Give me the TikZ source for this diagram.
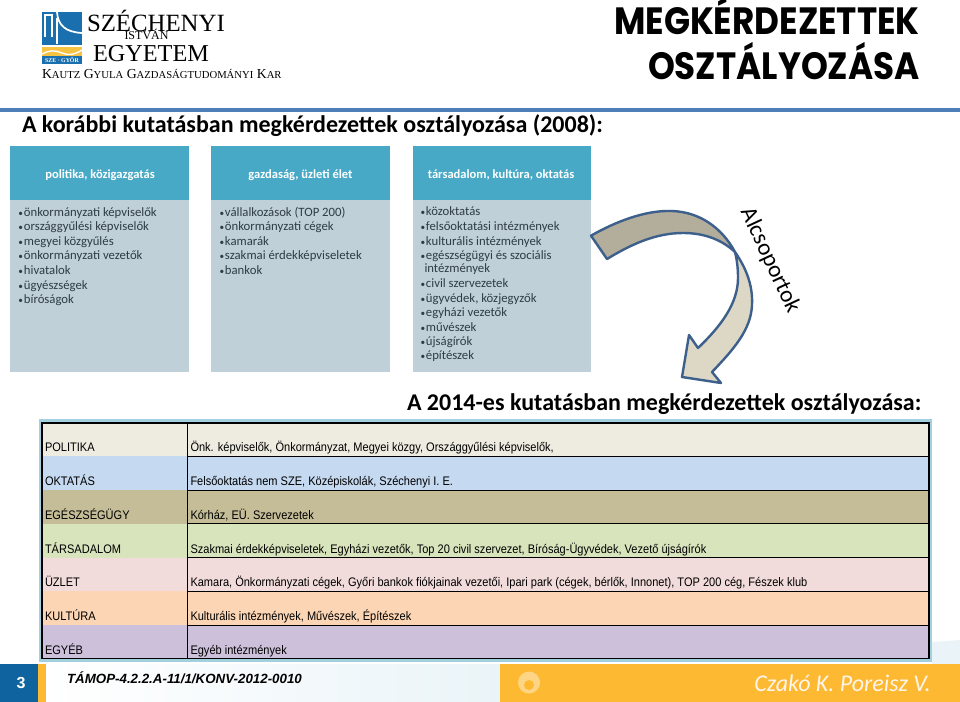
\documentclass[tikz,border=0pt]{standalone}
\usepackage{fontspec}
\setmainfont{Carlito}
\newfontfamily\tablefont[FakeStretch=0.89]{Liberation Sans}
\newfontfamily\seriffont{Liberation Serif}
\newfontfamily\footfont{Liberation Sans}
\newfontfamily\titlefont[FakeStretch=0.9]{Poppins}
\definecolor{headblue}{HTML}{47A9C6}
\definecolor{bodyblue}{HTML}{BFD0D9}
\definecolor{lineblue}{HTML}{4F7FB8}
\definecolor{arrowline}{HTML}{3D5F8C}
\definecolor{arrowdark}{HTML}{B3AD9B}
\definecolor{arrowlight}{HTML}{DDD8C5}
\definecolor{frameblue}{HTML}{A3D0DE}
\definecolor{footorange}{HTML}{FDB932}
\definecolor{footblue}{HTML}{0F649F}
\definecolor{logoblue}{HTML}{1A6FAF}
\definecolor{logoyellow}{HTML}{F5C242}
\definecolor{bullettext}{HTML}{2E3C44}
\definecolor{paletint}{HTML}{EAF4F8}
\definecolor{rowa}{HTML}{EEECE1}
\definecolor{rowb}{HTML}{C5D9F1}
\definecolor{rowc}{HTML}{C4BD97}
\definecolor{rowd}{HTML}{D8E4BC}
\definecolor{rowe}{HTML}{F2DCDB}
\definecolor{rowf}{HTML}{FCD5B4}
\definecolor{rowg}{HTML}{CCC0DA}
\tikzset{
  txt/.style={inner sep=0pt,outer sep=0pt,anchor=base west},
  head/.style={inner sep=0pt,text=white,font=\fontsize{9.4}{12}\selectfont\bfseries},
  bul/.style={txt,text=bullettext,font=\fontsize{9.55}{12}\selectfont},
  tab/.style={txt,text=black,font=\tablefont\fontsize{9.3}{10}\selectfont},
  big/.style={txt,text=black,font=\fontsize{18}{20}\selectfont\bfseries},
}
\newcommand{\bulitem}[1]{{\scriptsize\textbullet}\hspace{0.6pt}#1}
\begin{document}
\begin{tikzpicture}[x=0.75pt,y=-0.75pt]
\useasboundingbox (0,0) rectangle (960,702);
\fill[white] (0,0) rectangle (960,702);
% --- logo
\fill[logoblue] (42,12) rectangle (82,45);
\draw[white,line width=1.1pt] (45,37) -- (45,15) -- (52,15) -- (52,37);
\draw[white,line width=1.3pt] (57,12) .. controls (58,26) and (66,32) .. (82,33);
\draw[white,line width=1.1pt] (57,18) -- (57,44);
\fill[logoyellow] (42,47) rectangle (82,56);
\draw[white,line width=1pt] (42,54) .. controls (50,50) and (54,50) .. (62,53) .. controls (70,56) and (76,54) .. (82,50);
\fill[logoblue] (42,56) rectangle (82,64);
\node[inner sep=0pt,text=white] (logomark) at (62,60) {\seriffont\bfseries\fontsize{4.4}{5}\selectfont SZE · GYŐR};
\node[txt,font=\seriffont\fontsize{18.6}{24}\selectfont] (logoa) at (87,32) {SZÉCHENYI};
\node[inner sep=0pt,anchor=base,font=\seriffont\fontsize{9}{10}\selectfont] (logob) at (146.5,40) {ISTVÁN};
\node[txt,font=\seriffont\fontsize{18.2}{24}\selectfont] (logoc) at (93,61.5) {EGYETEM};
\node[txt,font=\seriffont\fontsize{10.3}{11}\selectfont] (logod) at (42,79) {K{\fontsize{8}{9}\selectfont AUTZ} G{\fontsize{8}{9}\selectfont YULA} G{\fontsize{8}{9}\selectfont AZDASÁGTUDOMÁNYI} K{\fontsize{8}{9}\selectfont AR}};
% --- title
\node[inner sep=0pt,anchor=base east,font=\titlefont\bfseries\fontsize{28.5}{30}\selectfont] (titlea) at (920,35) {MEGKÉRDEZETTEK};
\node[inner sep=0pt,anchor=base east,font=\titlefont\bfseries\fontsize{28.5}{30}\selectfont] (titleb) at (920,80) {OSZTÁLYOZÁSA};
\fill[lineblue] (0,108) rectangle (960,112);
\node[big] (heada) at (22,132.5) {A korábbi kutatásban megkérdezettek osztályozása (2008):};
% --- panels
\foreach \xa/\xb in {10/188.5,211/390,412.7/591}{
  \fill[headblue] (\xa,146) rectangle (\xb,200);
  \fill[bodyblue] (\xa,200.5) rectangle (\xb,371.5);
}
\node[head] (pa) at (100,175) {politika, közigazgatás};
\node[head] (pb) at (300.5,175) {gazdaság, üzleti élet};
\node[head] (pc) at (501,175) {társadalom, kultúra, oktatás};
\foreach \i/\y/\t in {a/216.5/önkormányzati képviselők,b/231/országgyűlési képviselők,c/245.6/megyei közgyűlés,d/260/önkormányzati vezetők,e/274.6/hivatalok,f/289.2/ügyészségek,g/303.6/bíróságok}
  \node[bul] (pa\i) at (18.5,\y) {\bulitem{\t}};
\foreach \i/\y/\t in {a/216.5/vállalkozások (TOP 200),b/231/önkormányzati cégek,c/245.6/kamarák,d/260/szakmai érdekképviseletek,e/274.6/bankok}
  \node[bul] (pb\i) at (219.5,\y) {\bulitem{\t}};
\foreach \i/\y/\t in {a/216/közoktatás,b/231/felsőoktatási intézmények,c/245.3/kulturális intézmények,d/260/egészségügyi és szociális,f/287/civil szervezetek,g/302/ügyvédek{,} közjegyzők,h/316/egyházi vezetők,i/331/művészek,j/345.3/újságírók,k/359.6/építészek}
  \node[bul] (pc\i) at (420.5,\y) {\bulitem{\t}};
\node[bul] (pce) at (424.5,272.6) {intézmények};
% --- curved arrow
\filldraw[fill=arrowlight,draw=arrowline,line width=1.8pt,line join=round]
  (735,252) .. controls (746,268) and (753,285) .. (752,305)
  .. controls (751,330) and (733,350) .. (712,372)
  -- (721,383) -- (682,377) -- (689,335) -- (698,348)
  .. controls (720,327) and (738,304) .. (738,278)
  .. controls (738,268) and (737,260) .. (735,252) -- cycle;
\filldraw[fill=arrowdark,draw=arrowline,line width=1.8pt,line join=round]
  (591,235.7) .. controls (615,222) and (645,210) .. (672,211)
  .. controls (700,212) and (722,228) .. (735,252)
  .. controls (722,240) and (705,233) .. (683,233)
  .. controls (655,233) and (630,245) .. (607,259) -- cycle;
\node[inner sep=0pt,rotate=-65,font=\fontsize{17.5}{20}\selectfont] (alcso) at (770,260.5) {Alcsoportok};
% --- second heading
\node[big] (headb) at (407,410.5) {A 2014-es kutatásban megkérdezettek osztályozása:};
% --- table
\fill[paletint] (932,642) -- (960,640) -- (960,664) -- (932,664) -- cycle;
\fill[frameblue] (39,419) rectangle (932,662);
\foreach \ya/\yb/\c in {423/456/rowa,456/490/rowb,490/523.7/rowc,523.7/557.7/rowd,557.7/591.3/rowe,591.3/625/rowf,625/658.7/rowg}
  \fill[\c] (42,\ya) rectangle (929,\yb);
\foreach \y in {456,490,523.7,557.7,591.3,625}
  \draw[black,line width=0.75pt] (187.7,\y) -- (929,\y);
\draw[black,line width=0.9pt] (42,423) rectangle (929,658.7);
\draw[black,line width=0.75pt] (187.7,423) -- (187.7,658.7);
\foreach \i/\y/\t in {a/451.5/POLITIKA,b/485/OKTATÁS,c/519/EGÉSZSÉGÜGY,d/553/TÁRSADALOM,e/586.5/ÜZLET,f/620.5/KULTÚRA,g/654/EGYÉB}
  \node[tab] (l\i) at (45,\y) {\t};
\node[tab] (ra) at (190.5,451.5) {Önk. képviselők, Önkormányzat, Megyei közgy, Országgyűlési képviselők,};
\node[tab] (rb) at (190.5,485) {Felsőoktatás nem SZE, Középiskolák, Széchenyi I. E.};
\node[tab] (rc) at (190.5,519) {Kórház, EÜ. Szervezetek};
\node[tab] (rd) at (190.5,553) {Szakmai érdekképviseletek, Egyházi vezetők, Top 20 civil szervezet, Bíróság-Ügyvédek, Vezető újságírók};
\node[tab] (re) at (190.5,586.5) {Kamara, Önkormányzati cégek, Győri bankok fiókjainak vezetői, Ipari park (cégek, bérlők, Innonet), TOP 200 cég, Fészek klub};
\node[tab] (rf) at (190.5,620.5) {Kulturális intézmények, Művészek, Építészek};
\node[tab] (rg) at (190.5,654) {Egyéb intézmények};
% --- footer
\shade[left color=white,right color=paletint] (46,664) rectangle (500,702);
\fill[footblue] (0,664) rectangle (38,702);
\fill[footorange] (38,664) rectangle (46,702);
\fill[footorange] (500,664) rectangle (960,702);
\node[inner sep=0pt,text=white,font=\footfont\bfseries\fontsize{12}{13}\selectfont] (num) at (21,683) {3};
\node[txt,font=\footfont\bfseries\itshape\fontsize{10}{12}\selectfont] (tamop) at (67,683.5) {TÁMOP-4.2.2.A-11/1/KONV-2012-0010};
\fill[white,opacity=0.4] (529,682.5) circle (11);
\fill[footorange] (529,685) circle (5);
\node[inner sep=0pt,anchor=base east,text=white!92!orange,font=\itshape\fontsize{18}{20}\selectfont] (auth) at (931,691) {Czakó K. Poreisz V.};
\end{tikzpicture}
\end{document}
